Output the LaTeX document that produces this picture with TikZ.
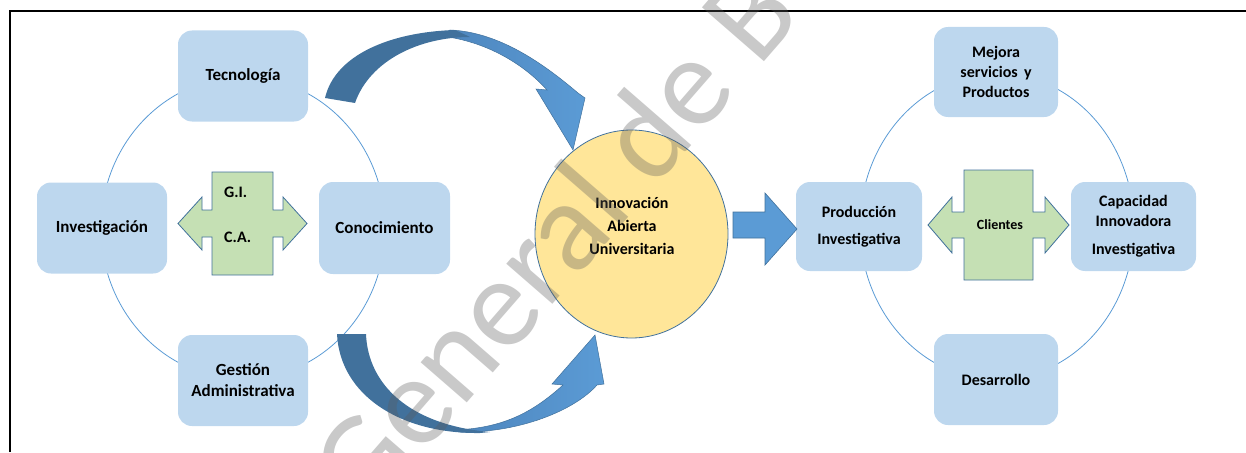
\documentclass[tikz,border=0pt]{standalone}
\usepackage{fontspec}
\setmainfont{Carlito}
\usetikzlibrary{shapes.geometric}
\definecolor{cajaazul}{HTML}{BDD7EE}
\definecolor{verdecruz}{HTML}{C5E0B4}
\definecolor{azulborde}{HTML}{41719C}
\definecolor{azulclaro}{HTML}{5B9BD5}
\definecolor{azulmedio}{HTML}{4D85BD}
\definecolor{amarillo}{HTML}{FFE699}
\definecolor{gris}{HTML}{5A5A5A}
\tikzset{
  caja/.style={rounded corners=14pt, fill=cajaazul, minimum width=130pt, minimum height=91pt,
    inner sep=0pt, align=center, font=\bfseries\fontsize{16}{20}\selectfont},
  cajagrande/.style={caja, font=\bfseries\fontsize{17}{21}\selectfont},
  texto/.style={inner sep=0pt, align=center, font=\bfseries\fontsize{16}{20}\selectfont},
  anillo/.style={draw=azulclaro, line width=0.8pt},
  cruz/.style={fill=verdecruz, draw=azulborde, line width=0.8pt, line join=miter},
  flechaosc/.style={fill=azulborde},
  flechaclara/.style={left color=azulmedio, right color=azulclaro, draw=azulborde, line width=0.5pt},
}
\begin{document}
\begin{tikzpicture}[x=1pt,y=-1pt]
\useasboundingbox (0,0) rectangle (1246,452);
% marco
\draw[line width=1.2pt] (10,452) -- (10,11) -- (1246,11);

% anillos
\draw[anillo] (243,228) ellipse [x radius=142, y radius=151];
\draw[anillo] (997,226.5) ellipse [x radius=137, y radius=153];

% cajas izquierda
\node[cajagrande] (tec) at (243,76) {Tecnología};
\node[cajagrande] (inv) at (102,228) {Investigación};
\node[cajagrande, minimum width=131pt, minimum height=92pt] (con) at (384.5,228) {Conocimiento};
\node[cajagrande] (ges) at (243,380.5) {Gestión\\Administrativa};

% cajas derecha
\node[caja, minimum width=124pt, minimum height=90pt] (mej) at (996,72) {Mejora\\servicios\ \,y\\Productos};
\node[caja, minimum width=126pt, minimum height=89pt] (pro) at (859,226.5) {Producción\\[7pt]Investigativa};
\node[caja, minimum width=125pt, minimum height=89pt] (cap) at (1133.5,226.5) {Capacidad\\Innovadora\\[8pt]Investigativa};
\node[caja, minimum width=124pt, minimum height=91pt] (des) at (996,379.5) {Desarrollo};

% cruces
\draw[cruz] (212,172) -- (273,172) -- (273,210) -- (283,210) -- (283,197) -- (307,223.5) -- (283,250)
  -- (283,237) -- (273,237) -- (273,275) -- (212,275) -- (212,237) -- (202,237) -- (202,250)
  -- (178,223.5) -- (202,197) -- (202,210) -- (212,210) -- cycle;
\node[texto, anchor=west] (gi) at (224,192) {G.I.};
\node[texto, anchor=west] (ca) at (224,237) {C.A.};

\draw[cruz] (964,170) -- (1033,170) -- (1033,212) -- (1045,212) -- (1045,197) -- (1069,225) -- (1045,253)
  -- (1045,238) -- (1033,238) -- (1033,280) -- (964,280) -- (964,238) -- (952,238) -- (952,253)
  -- (928,225) -- (952,197) -- (952,212) -- (964,212) -- cycle;
\node[texto, font=\bfseries\fontsize{14}{17}\selectfont] (cli) at (1000,225) {Clientes};

% flecha curva superior
\draw[flechaclara] (450,30) .. controls (500,32) and (545,65) .. (578,93) -- (585,98) -- (573,150)
  -- (536,89) -- (547,90) .. controls (520,60) and (480,40) .. (440,36) -- cycle;
\fill[flechaosc] (325,98) .. controls (335,55) and (390,32) .. (455,30) -- (470,37)
  .. controls (420,37) and (370,60) .. (355,103) -- cycle;

% flecha curva inferior
\draw[flechaclara] (460,432) .. controls (520,433) and (575,410) .. (597,385) -- (604,384) -- (595,335)
  -- (552,384) -- (563,385) .. controls (530,415) and (500,428) .. (455,430) -- cycle;
\fill[flechaosc] (337,334) -- (366,334) .. controls (368,385) and (410,425) .. (490,432) -- (480,433)
  .. controls (400,434) and (340,395) .. (337,334) -- cycle;

% circulo central
\node[ellipse, fill=amarillo, draw=azulborde, line width=0.8pt, minimum width=193pt,
  minimum height=208pt, inner sep=0pt] (bola) at (631.5,234) {};
\node[texto, font=\bfseries\fontsize{16}{23}\selectfont] (bolatxt) at (632,225.5) {Innovación\\Abierta\\Universitaria};

% flecha recta
\draw[fill=azulclaro, draw=azulborde, line width=0.6pt] (733,212) -- (765,212) -- (765,193) -- (797,229)
  -- (765,265) -- (765,238) -- (733,238) -- cycle;

% marca de agua
\begin{scope}
  \clip (0,0) rectangle (1246,452);
  \node[rotate=49, anchor=base west, inner sep=0pt, text=gris, text opacity=0.33,
    font=\fontsize{128}{128}\selectfont] (marca) at (367,519) {General de B};
\end{scope}
\end{tikzpicture}
\end{document}
